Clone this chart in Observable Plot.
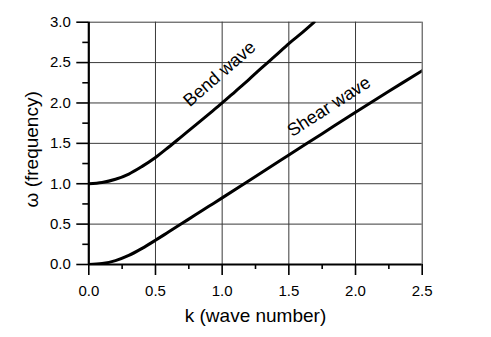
<!DOCTYPE html>
<html>
<head>
<meta charset="utf-8">
<script src="https://cdn.jsdelivr.net/npm/d3@7"></script>
<script src="https://cdn.jsdelivr.net/npm/@observablehq/plot@0.6"></script>
<style>
  html, body { margin: 0; padding: 0; background: #fff; }
  svg { display: block; }
</style>
</head>
<body>
<div id="chart"></div>
<script>
const bendK = [0, 0.1, 0.2, 0.3, 0.4, 0.5, 0.6, 0.7, 0.8, 0.9, 1.0, 1.1, 1.2, 1.3, 1.4, 1.5, 1.6, 1.69];
const bendW = [1.00, 1.015, 1.055, 1.12, 1.215, 1.325, 1.455, 1.59, 1.725, 1.862, 2.00, 2.145, 2.29, 2.44, 2.585, 2.735, 2.87, 3.00];
const shearK = [0, 0.1, 0.2, 0.3, 0.4, 0.5, 0.6, 0.7, 0.8, 0.9, 1.0, 1.25, 1.5, 1.75, 2.0, 2.25, 2.5];
const shearW = [0, 0.012, 0.048, 0.112, 0.20, 0.30, 0.405, 0.51, 0.615, 0.72, 0.825, 1.09, 1.355, 1.62, 1.885, 2.145, 2.40];
const xTicks = [0, 0.5, 1.0, 1.5, 2.0, 2.5];
const xMinor = [0.25, 0.75, 1.25, 1.75, 2.25];
const yTicks = [0, 0.5, 1.0, 1.5, 2.0, 2.5, 3.0];
const yMinor = [0.25, 0.75, 1.25, 1.75, 2.25, 2.75];
const curveLabels = ["Bend wave", "Shear wave"];
const labelK = [0.98, 1.80];
const labelW = [2.36, 1.955];
const labelAngle = [-41, -33];
const xTitle = "k (wave number)";
const yTitle = "ω (frequency)";

const bend = bendK.map((k, i) => ({k, w: bendW[i]}));
const shear = shearK.map((k, i) => ({k, w: shearW[i]}));
const labels = curveLabels.map((t, i) => ({t, k: labelK[i], w: labelW[i], a: labelAngle[i]}));

const font = "'Liberation Sans', Arial, Helvetica, sans-serif";

const chart = Plot.plot({
  width: 491,
  height: 337,
  marginLeft: 88.3,
  marginRight: 69.3,
  marginTop: 21.7,
  marginBottom: 73,
  style: {fontFamily: font, fontSize: "15px", background: "#fff", color: "#000"},
  x: {domain: [0, 2.5]},
  y: {domain: [0, 3]},
  marks: [
    Plot.gridX(xTicks.slice(1), {stroke: "#3a3a3a", strokeOpacity: 1, strokeWidth: 1}),
    Plot.gridY(yTicks.slice(1), {stroke: "#3a3a3a", strokeOpacity: 1, strokeWidth: 1}),
    Plot.axisX(xTicks, {tickSize: 11, tickPadding: 10, strokeWidth: 1.6, fontSize: 15, tickFormat: d3.format(".1f"), label: null}),
    Plot.axisX(xMinor, {tickSize: 5, strokeWidth: 1.6, tickFormat: () => "", label: null}),
    Plot.axisY(yTicks, {tickSize: 12, tickPadding: 6, strokeWidth: 1.6, fontSize: 15, tickFormat: d3.format(".1f"), label: null}),
    Plot.axisY(yMinor, {tickSize: 6, strokeWidth: 1.6, tickFormat: () => "", label: null}),
    Plot.ruleX([0], {stroke: "#000", strokeWidth: 2.2}),
    Plot.ruleY([0], {stroke: "#000", strokeWidth: 2.2}),
    Plot.line(bend, {x: "k", y: "w", stroke: "#000", strokeWidth: 3, curve: "catmull-rom", clip: true}),
    Plot.line(shear, {x: "k", y: "w", stroke: "#000", strokeWidth: 3, curve: "catmull-rom", clip: true}),
    Plot.text(labels, {x: "k", y: "w", text: "t", rotate: "a", fontSize: 18, fill: "#000"}),
    Plot.text([xTitle], {frameAnchor: "bottom", textAnchor: "middle", lineAnchor: "bottom", dy: 57, fontSize: 19, fill: "#000"}),
    Plot.text([yTitle], {frameAnchor: "left", textAnchor: "middle", lineAnchor: "middle", rotate: -90, dx: -57, dy: 6, fontSize: 19, fill: "#000"})
  ]
});
document.getElementById("chart").appendChild(chart);
</script>
</body>
</html>
